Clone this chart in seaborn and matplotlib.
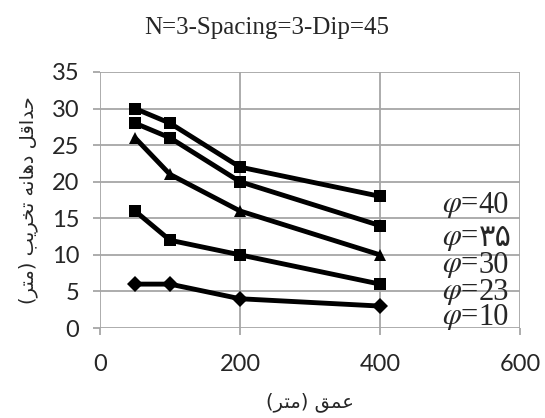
import matplotlib
matplotlib.use("Agg")
import matplotlib.pyplot as plt
import seaborn as sns
import pandas as pd

# ---- data ----
depth = [50, 100, 200, 400]
phi40 = [30, 28, 22, 18]
phi35 = [28, 26, 20, 14]
phi30 = [26, 21, 16, 10]
phi23 = [16, 12, 10, 6]
phi10 = [6, 6, 4, 3]
series_names = ["40", "35", "30", "23", "10"]
label_values = ["40", "\u06f3\u06f5", "30", "23", "10"]
label_y = [16.8, 12.3, 8.6, 4.8, 1.4]
x_ticks = [0, 200, 400, 600]
y_ticks = [0, 5, 10, 15, 20, 25, 30, 35]
title = "N=3-Spacing=3-Dip=45"
# Persian labels written in visual (shaped) order for rendering
x_label = "(\ufeae\ufe98\ufee3) \ufed6\ufee4\ufecb"
y_label = ("(\ufeae\ufe98\ufee3) "
           "\ufe90\ufef3\ufeae\ufea8\ufe97 "
           "\ufeea\ufee7\ufe8e\ufeeb\ufea9 "
           "\ufede\ufed7\ufe8d\ufeaa\ufea3")

values = [phi40, phi35, phi30, phi23, phi10]
rows = []
for name, vals in zip(series_names, values):
    for d, v in zip(depth, vals):
        rows.append({"depth": d, "value": v, "phi": name})
df = pd.DataFrame(rows)

sns.set_theme(style="white")
fig = plt.figure(figsize=(5.45, 4.18), dpi=100)
ax = fig.add_axes([0.1835, 0.2153, 0.7705, 0.6125])

markers = {"40": "s", "35": "s", "30": "^", "23": "s", "10": "D"}
palette = {n: "black" for n in series_names}
sns.lineplot(data=df, x="depth", y="value", hue="phi", style="phi",
             markers=markers, dashes=False, palette=palette,
             linewidth=3.5, markersize=8, markeredgewidth=0,
             legend=False, ax=ax, zorder=3)

ax.set_xlim(0, 600)
ax.set_ylim(0, 35)
ax.set_xticks(x_ticks)
ax.set_yticks(y_ticks)
grid_c = "#a6a6a6"
ax.grid(True, color=grid_c, linewidth=1.3)
for s in ax.spines.values():
    s.set_visible(False)
ax.tick_params(axis="both", which="both", length=5, width=1.3, color=grid_c,
               direction="out", bottom=True, left=True, labelsize=17, pad=10)
for lab in ax.get_xticklabels() + ax.get_yticklabels():
    lab.set_fontfamily("Lato")
ax.tick_params(axis="x", pad=14)

ax.set_xlabel(x_label, fontfamily="DejaVu Sans", fontsize=14, labelpad=12)
ax.set_ylabel(y_label, fontfamily="DejaVu Sans", fontsize=14, labelpad=10)

x_split = 541
for val, yy in zip(label_values, label_y):
    ax.text(x_split, yy, "$\\varphi$=", ha="right", va="center", fontsize=22,
            math_fontfamily="stix", family="Liberation Serif", zorder=4)
    ax.text(x_split, yy, val, ha="left", va="center", fontsize=22,
            family=["Liberation Serif", "DejaVu Sans"], zorder=4)

fig.suptitle(title, x=0.49, y=0.96, fontsize=18, family="Liberation Serif")

fig.savefig("out.png", dpi=100)
